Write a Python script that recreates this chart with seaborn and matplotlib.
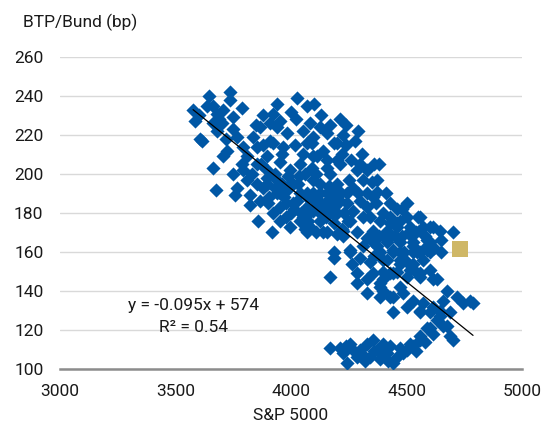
import matplotlib
matplotlib.use("Agg")
import matplotlib.pyplot as plt
import seaborn as sns
import numpy as np
import pandas as pd

# ---------------- data ----------------
upper_left_x = [3646, 3736, 3736, 3635, 3576, 3584, 3663, 3786, 3678, 3707, 3750, 3663, 3678, 3613, 3606,
                3750, 3765, 3721, 3793, 3663, 3675, 3757, 3750, 3707, 3765, 3808, 3836, 3866, 3700, 3720,
                3690, 3600, 3790, 3808, 3793]
upper_left_y = [240, 242, 238, 235, 233, 227, 235, 234, 231, 233, 229, 226, 222, 217, 218,
                223, 219, 212, 214, 203, 192, 189, 200, 209, 193, 197, 219, 224, 226, 218,
                228, 230, 205, 209, 202]

core_x = [3922, 3909, 3938, 3851, 3851, 3895, 3922, 3895, 3909, 3952, 3981, 3966, 4017, 4024, 4068,
          4082, 4126, 4154, 4068, 4097, 4184, 3952, 3996, 4039, 4097, 4154, 4198, 3851, 3938, 4010,
          4097, 4169, 3981, 4068, 4154, 3880, 3895, 3822, 3822, 3866, 3857, 3916, 3952, 3996, 4039,
          4082, 4140, 4198, 3952, 4024, 4097, 4154, 3895, 3996, 4126, 4184, 3952, 4068, 4126, 4225,
          4198, 4277, 4306, 4090, 4111, 4154, 4212, 4284, 4327, 4371, 4371, 4355, 4312, 4270, 4241,
          4299, 4241, 4184, 4126, 4068, 4097, 4154, 4198, 4270, 4327, 4342, 4052, 4126, 4184, 4255,
          3880, 3900, 3930, 3960, 3980, 4000, 4030, 4050, 4060, 4080, 4110, 4140, 4170, 4200, 4220,
          4230, 4250, 4260, 3870, 3940, 3960, 4010, 4040, 4090, 4120, 4180, 4210, 3920, 3980, 4060,
          4110, 4150, 4220, 4290, 4310, 4330, 4350, 4360, 4300, 4240, 4020, 4050, 4000, 3940, 4100,
          4130, 4170, 3850, 3880, 3830, 4210, 4240, 4290, 4380, 4370,
          3930, 3970, 4015, 4045, 4075, 4105, 4135, 4165, 3905, 3985, 4035, 4185, 4215, 4245]
core_y = [231, 226, 224, 214, 205, 209, 216, 202, 217, 227, 221, 214, 215, 239, 235,
          226, 224, 221, 216, 219, 216, 206, 202, 205, 209, 203, 207, 195, 197, 195,
          197, 193, 192, 190, 190, 193, 198, 189, 184, 186, 176, 170, 176, 173, 176,
          173, 170, 169, 190, 186, 190, 186, 195, 195, 195, 191, 183, 183, 180, 220,
          216, 217, 210, 216, 209, 207, 205, 202, 202, 197, 191, 188, 197, 193, 190,
          186, 185, 188, 190, 188, 181, 183, 180, 181, 183, 178, 178, 176, 175, 176,
          215, 185, 200, 210, 185, 180, 195, 210, 200, 180, 200, 212, 200, 195, 210,
          180, 197, 207, 205, 190, 195, 185, 190, 203, 186, 180, 186, 180, 178, 172,
          170, 178, 172, 190, 178, 190, 196, 205, 205, 215, 228, 222, 232, 236, 236,
          230, 225, 225, 230, 200, 228, 225, 222, 205, 185,
          193, 188, 182, 180, 176, 186, 183, 194, 188, 199, 199, 183, 190, 176]

right_x = [4385, 4429, 4458, 4515, 4571, 4615, 4701, 4414, 4355, 4284, 4225, 4154, 4068, 4225, 4184,
           4255, 4312, 4355, 4414, 4472, 4528, 4587, 4472, 4544, 4602, 4385, 4398, 4429, 4472, 4515,
           4602, 4645, 4414, 4528, 4587, 4571, 4528, 4472, 4414, 4602, 4558, 4501, 4442, 4398, 4631,
           4385, 4472, 4184, 4263, 4169, 4284, 4327, 4327, 4385, 4355, 4429, 4284, 4398, 4472, 4515,
           4558, 4371, 4442, 4528, 4587, 4255, 4615, 4300, 4340, 4450, 4500, 4540, 4600, 4650, 4650,
           4490, 4330, 4400, 4360, 4500, 4460, 4430, 4550, 4580,
           4420, 4460, 4480, 4520, 4560, 4500, 4440, 4380, 4460, 4540, 4620, 4560, 4480, 4410]
right_y = [176, 178, 173, 173, 173, 173, 170, 171, 171, 170, 171, 170, 170, 168, 160,
           160, 163, 165, 165, 165, 165, 166, 160, 160, 160, 160, 180, 175, 176, 171,
           173, 171, 166, 163, 163, 156, 154, 154, 156, 151, 149, 147, 149, 146, 146,
           144, 142, 157, 154, 147, 144, 146, 139, 142, 149, 149, 149, 156, 156, 151,
           147, 163, 161, 160, 161, 161, 146, 157, 155, 168, 178, 170, 165, 160, 166,
           160, 167, 150, 158, 185, 182, 185, 178, 168,
           170, 175, 168, 168, 160, 155, 160, 168, 150, 150, 162, 178, 182, 190]

diag_x = [4398, 4442, 4485, 4528, 4571, 4615, 4674, 4717, 4775, 4788, 4745, 4658, 4688, 4645, 4602,
          4558, 4602, 4658, 4688, 4558, 4385, 4429, 4645, 4674, 4701, 4587, 4615, 4558, 4442, 4500,
          4630]
diag_y = [140, 137, 139, 135, 134, 132, 140, 137, 135, 134, 134, 135, 129, 127, 129,
          130, 121, 122, 117, 117, 137, 137, 130, 122, 115, 121, 118, 129, 129, 132,
          125]

low_x = [4169, 4255, 4225, 4241, 4299, 4327, 4355, 4371, 4342, 4414, 4442, 4472, 4515, 4558, 4485,
         4398, 4212, 4284, 4385, 4270, 4310, 4360, 4400, 4430, 4460, 4500, 4530, 4580, 4240, 4320,
         4420, 4540]
low_y = [111, 113, 108, 103, 110, 113, 115, 110, 106, 108, 103, 111, 113, 115, 108,
         113, 111, 106, 105, 110, 107, 109, 110, 112, 106, 110, 112, 114, 112, 104,
         104, 109]

latest_x = [4732]
latest_y = [161.5]

trend_slope = -0.0955
trend_intercept = 574.5
equation_text = "y = -0.095x + 574"
r2_text = "R² = 0.54"

x_ticks = [3000, 3500, 4000, 4500, 5000]
y_ticks = [100, 120, 140, 160, 180, 200, 220, 240, 260]
x_label = "S&P 5000"
y_label = "BTP/Bund (bp)"

# ---------------- build frame ----------------
sp500 = upper_left_x + core_x + right_x + diag_x + low_x
spread = upper_left_y + core_y + right_y + diag_y + low_y
df = pd.DataFrame({"sp500": sp500, "spread": spread})
latest = pd.DataFrame({"sp500": latest_x, "spread": latest_y})
xs = np.array([min(sp500), max(sp500)])
trend = pd.DataFrame({"sp500": xs, "spread": trend_slope * xs + trend_intercept})

# ---------------- style ----------------
sns.set_theme(style="white")
plt.rcParams["font.family"] = ["Roboto", "DejaVu Sans"]

BLUE = "#0057A5"
GOLD = "#CFB766"
TXT = "#1a1a1a"
FS = 12.5

fig = plt.figure(figsize=(5.53, 4.30), dpi=100)
ax = fig.add_axes([60 / 553, 1 - 369 / 430, (522 - 60) / 553, (369 - 57) / 430])

sns.scatterplot(data=df, x="sp500", y="spread", marker="D", s=52, color=BLUE,
                linewidth=0, ax=ax, zorder=3, legend=False)
sns.lineplot(data=trend, x="sp500", y="spread", color="black", linewidth=0.9,
             ax=ax, zorder=4, legend=False)
sns.scatterplot(data=latest, x="sp500", y="spread", marker="s", s=117, color=GOLD,
                linewidth=0, ax=ax, zorder=5, legend=False)

ax.set_xlim(3000, 5000)
ax.set_ylim(100, 260)
ax.set_xticks(x_ticks)
ax.set_yticks(y_ticks)
ax.yaxis.grid(True, color="#D9D9D9", linewidth=1.0, zorder=0)
ax.xaxis.grid(False)
ax.set_axisbelow(True)
for s in ["top", "right", "left"]:
    ax.spines[s].set_visible(False)
ax.spines["bottom"].set_color("#8C8C8C")
ax.spines["bottom"].set_linewidth(1.8)
ax.spines["bottom"].set_zorder(2)
ax.tick_params(axis="both", length=0, labelsize=FS, colors=TXT)
ax.tick_params(axis="x", pad=11)
ax.tick_params(axis="y", pad=12)

ax.set_xlabel(x_label, fontsize=FS, color=TXT, labelpad=6)
ax.set_ylabel("")
fig.text(23 / 553, 1 - 22.5 / 430, y_label, fontsize=FS, color=TXT,
         ha="left", va="center")

ax.text(3576, 132.8, equation_text, fontsize=FS, color=TXT, ha="center", va="center",
        zorder=6, fontstretch="condensed")
ax.text(3576, 121.5, r2_text, fontsize=FS, color=TXT, ha="center", va="center",
        zorder=6, fontstretch="condensed")

fig.savefig("out.png", dpi=100)
